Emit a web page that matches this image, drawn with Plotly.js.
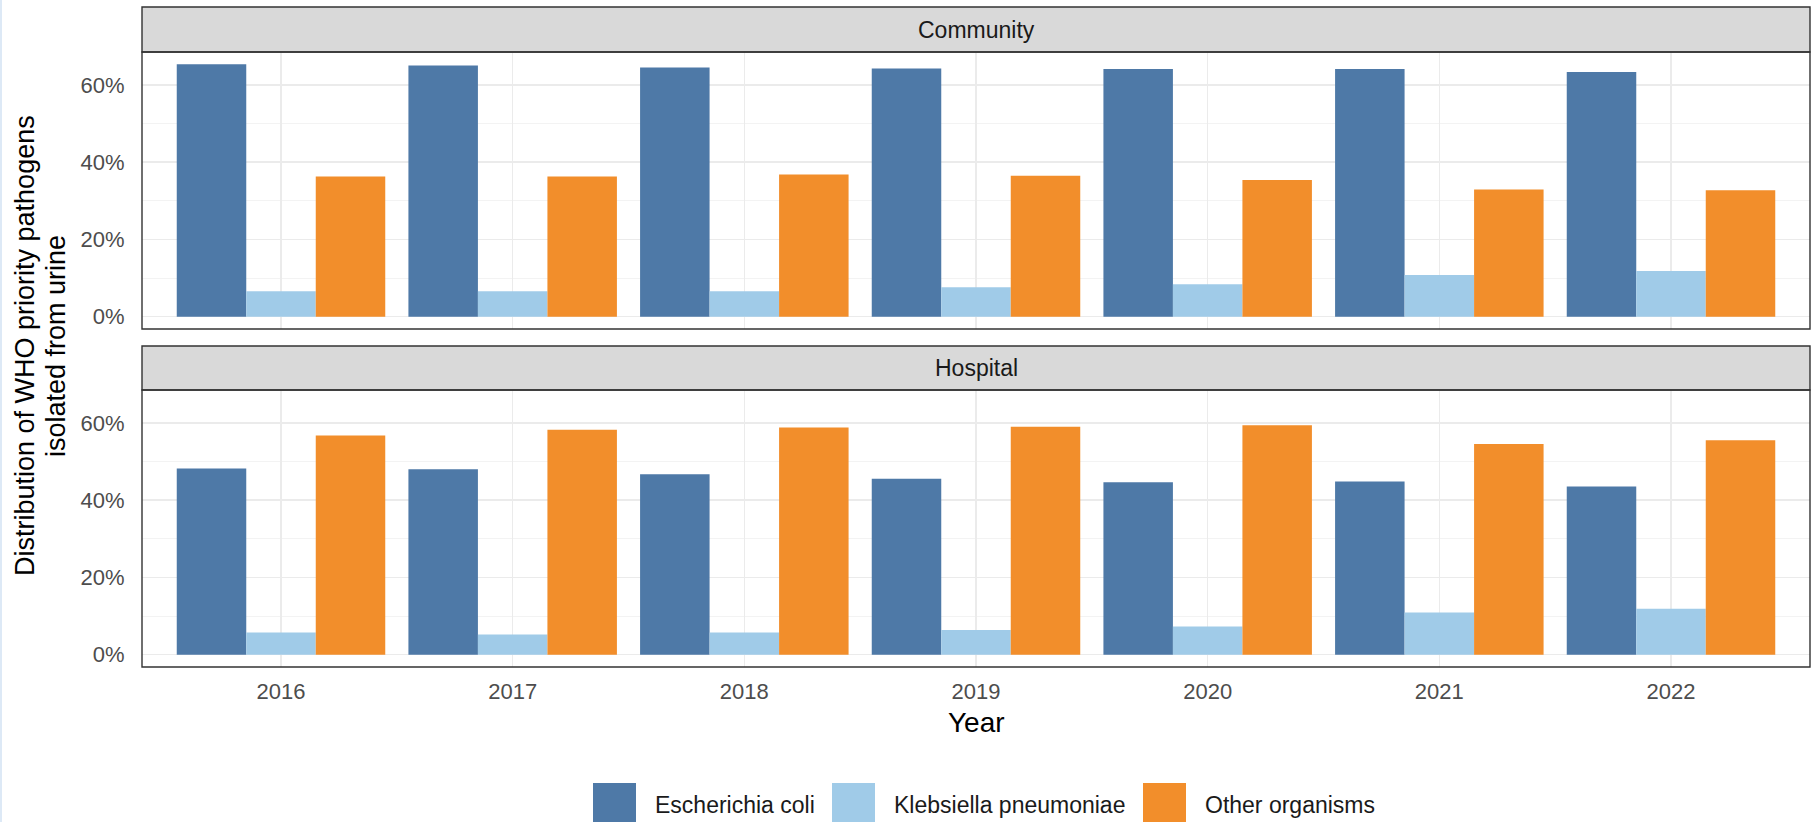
<!DOCTYPE html>
<html>
<head>
<meta charset="utf-8">
<script src="https://cdn.plot.ly/plotly-3.0.1.min.js"></script>
<style>
  html, body { margin: 0; padding: 0; background: #ffffff; }
  #chart { width: 1812px; height: 822px; }
</style>
</head>
<body>
<div id="chart"></div>
<script>
// Share (%) of WHO priority pathogens isolated from urine, by year and setting
const years = ['2016', '2017', '2018', '2019', '2020', '2021', '2022'];
const seriesNames = ['Escherichia coli', 'Klebsiella pneumoniae', 'Other organisms'];
const seriesColors = ['#4e79a7', '#a0cbe8', '#f28e2b'];
const panelNames = ['Community', 'Hospital'];

const communityEcoli = [65.3, 65.0, 64.5, 64.2, 64.1, 64.1, 63.3];
const communityKpneu = [6.6, 6.6, 6.6, 7.6, 8.4, 10.8, 11.8];
const communityOther = [36.3, 36.3, 36.8, 36.5, 35.4, 32.9, 32.7];

const hospitalEcoli = [48.2, 48.0, 46.7, 45.5, 44.6, 44.8, 43.5];
const hospitalKpneu = [5.7, 5.2, 5.7, 6.4, 7.3, 10.9, 11.9];
const hospitalOther = [56.7, 58.2, 58.8, 59.0, 59.4, 54.5, 55.5];

const yTicks = [0, 20, 40, 60];
const yTickText = ['0%', '20%', '40%', '60%'];

// page geometry (pixels) -> paper fractions
const W = 1812, H = 822;
const fx = px => px / W;
const fy = py => 1 - py / H;

const panelLeft = 142, panelRight = 1810;
const topStrip = [7, 52], topPanel = [52, 329];
const botStrip = [346, 390], botPanel = [390, 667];

const FONT = 'Liberation Sans, Arial, Helvetica, sans-serif';

const panelSeries = [
  [communityEcoli, communityKpneu, communityOther],
  [hospitalEcoli, hospitalKpneu, hospitalOther]
];
const axisPairs = [['x2', 'y'], ['x', 'y2']];

const traces = [];
panelSeries.forEach((vals, p) => {
  vals.forEach((v, s) => {
    traces.push({
      type: 'bar',
      x: years,
      y: v,
      name: seriesNames[s],
      marker: { color: seriesColors[s], line: { width: 0 } },
      xaxis: axisPairs[p][0],
      yaxis: axisPairs[p][1],
      showlegend: false,
      hoverinfo: 'skip'
    });
  });
});

const yAxisBase = {
  range: [-3.2, 68.5],
  tickvals: yTicks,
  ticktext: yTickText,
  ticks: 'outside',
  ticklen: 12,
  tickcolor: 'rgba(0,0,0,0)',
  tickfont: { family: FONT, size: 22, color: '#4d4d4d' },
  showgrid: true,
  gridcolor: '#ebebeb',
  gridwidth: 1.5,
  minor: { tickvals: [10, 30, 50], showgrid: true, gridcolor: '#f2f2f2', gridwidth: 0.9, ticks: '' },
  zeroline: false,
  showline: false,
  fixedrange: true
};

const xAxisBase = {
  type: 'category',
  range: [-0.6, 6.6],
  domain: [fx(panelLeft), fx(panelRight)],
  showgrid: true,
  gridcolor: '#ebebeb',
  gridwidth: 1.5,
  zeroline: false,
  showline: false,
  ticks: 'outside',
  ticklen: 5,
  tickcolor: 'rgba(0,0,0,0)',
  tickfont: { family: FONT, size: 22, color: '#4d4d4d' },
  fixedrange: true
};

const shapes = [];
const annotations = [];

// facet strips and panel borders
[[topStrip, topPanel], [botStrip, botPanel]].forEach(([strip, panel], i) => {
  shapes.push({
    type: 'rect', xref: 'paper', yref: 'paper', layer: 'above',
    x0: fx(panelLeft), x1: fx(panelRight), y0: fy(strip[1]), y1: fy(strip[0]),
    fillcolor: '#d9d9d9', line: { color: '#333333', width: 1.4 }
  });
  shapes.push({
    type: 'rect', xref: 'paper', yref: 'paper', layer: 'above',
    x0: fx(panelLeft), x1: fx(panelRight), y0: fy(panel[1]), y1: fy(panel[0]),
    fillcolor: 'rgba(0,0,0,0)', line: { color: '#333333', width: 1.4 }
  });
  annotations.push({
    xref: 'paper', yref: 'paper', showarrow: false,
    x: fx((panelLeft + panelRight) / 2), y: fy((strip[0] + strip[1]) / 2),
    xanchor: 'center', yanchor: 'middle',
    text: panelNames[i],
    font: { family: FONT, size: 23, color: '#1a1a1a' }
  });
});

// y-axis title, two lines
annotations.push({
  xref: 'paper', yref: 'paper', showarrow: false, textangle: -90,
  x: fx(25), y: fy(346), xanchor: 'center', yanchor: 'middle',
  text: 'Distribution of WHO priority pathogens',
  font: { family: FONT, size: 27, color: '#000000' }
});
annotations.push({
  xref: 'paper', yref: 'paper', showarrow: false, textangle: -90,
  x: fx(56), y: fy(346), xanchor: 'center', yanchor: 'middle',
  text: 'isolated from urine',
  font: { family: FONT, size: 27, color: '#000000' }
});

// x-axis title
annotations.push({
  xref: 'paper', yref: 'paper', showarrow: false,
  x: fx((panelLeft + panelRight) / 2), y: fy(722), xanchor: 'center', yanchor: 'middle',
  text: 'Year',
  font: { family: FONT, size: 28, color: '#000000' }
});

// legend along the bottom edge
const keyLeft = [593, 832, 1143];
const keySize = 43, keyTop = 783, textGap = 17;
seriesNames.forEach((name, s) => {
  shapes.push({
    type: 'rect', xref: 'paper', yref: 'paper',
    x0: fx(keyLeft[s]), x1: fx(keyLeft[s] + keySize),
    y0: fy(keyTop + keySize), y1: fy(keyTop),
    fillcolor: seriesColors[s], line: { width: 0 }
  });
  annotations.push({
    xref: 'paper', yref: 'paper', showarrow: false,
    x: fx(keyLeft[s] + keySize + textGap), y: fy(805),
    xanchor: 'left', yanchor: 'middle',
    text: name,
    font: { family: FONT, size: 23, color: '#1a1a1a' }
  });
});

// faint frame line at the page's left edge
shapes.push({
  type: 'line', xref: 'paper', yref: 'paper',
  x0: fx(1), x1: fx(1), y0: 0, y1: 1,
  line: { color: '#dde9f6', width: 2 }
});

const layout = {
  width: W, height: H,
  margin: { l: 0, r: 0, t: 0, b: 0 },
  paper_bgcolor: '#ffffff',
  plot_bgcolor: '#ffffff',
  barmode: 'group',
  bargap: 0.1,
  bargroupgap: 0,
  showlegend: false,
  font: { family: FONT },
  xaxis: Object.assign({}, xAxisBase, { anchor: 'y2' }),
  xaxis2: Object.assign({}, xAxisBase, { anchor: 'y', matches: 'x', showticklabels: false }),
  yaxis: Object.assign({}, yAxisBase, { domain: [fy(topPanel[1]), fy(topPanel[0])], anchor: 'x2' }),
  yaxis2: Object.assign({}, yAxisBase, { domain: [fy(botPanel[1]), fy(botPanel[0])], anchor: 'x' }),
  shapes: shapes,
  annotations: annotations
};

Plotly.newPlot('chart', traces, layout, { displayModeBar: false, staticPlot: true });
</script>
</body>
</html>
